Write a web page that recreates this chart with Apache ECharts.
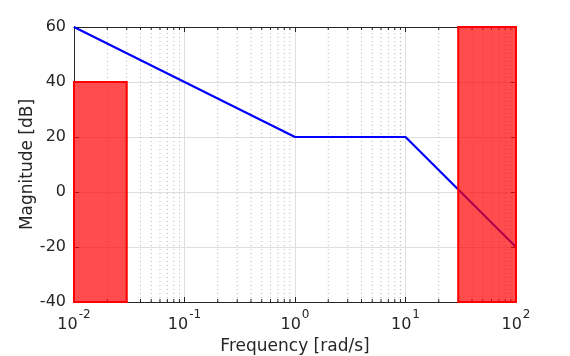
<!DOCTYPE html>
<html><head><meta charset="utf-8">
<script src="https://cdn.jsdelivr.net/npm/echarts@6/dist/echarts.min.js"></script>
<style>html,body{margin:0;padding:0;background:#fff}#c{width:570px;height:356px}</style>
</head><body><div id="c"></div>
<script>
// Data
const freq = [0.01, 1, 10, 100];
const magnitude = [60, 20, 20, -20];
const rectFrom = [0.01, 30];
const rectTo = [0.03, 100];
const rectTop = [40, 60];
const xMin = 0.01, xMax = 100;
const yMin = -40, yMax = 60, yStep = 20;
const decades = [-2, -1, 0, 1];
const minorMultipliers = [2, 3, 4, 5, 6, 7, 8, 9];

const minorVals = [];
decades.forEach(d => minorMultipliers.forEach(m => minorVals.push(m * Math.pow(10, d))));

const AX = '#262626';
const FONT = 'DejaVu Sans';

const chart = echarts.init(document.getElementById('c'), null, {renderer: 'canvas'});

const xCommon = {
  type: 'log', logBase: 10, min: xMin, max: xMax, splitNumber: 4,
  axisLine: {show: true, onZero: false, lineStyle: {color: AX, width: 1}},
  axisTick: {show: true, inside: true, length: 5, lineStyle: {color: AX}},
};
const yCommon = {
  type: 'value', min: yMin, max: yMax, interval: yStep,
  axisLine: {show: true, onZero: false, lineStyle: {color: AX, width: 1}},
  axisTick: {show: true, inside: true, length: 5, lineStyle: {color: AX}},
};

chart.setOption({
  animation: false,
  grid: {left: 74, top: 27, width: 442, height: 275, containLabel: false, outerBoundsMode: 'none'},
  xAxis: [
    Object.assign({}, xCommon, {
      position: 'bottom',
      name: 'Frequency [rad/s]', nameLocation: 'middle', nameGap: 36, nameMoveOverlap: false,
      nameTextStyle: {fontFamily: FONT, fontSize: 17, color: AX},
      splitLine: {show: true, lineStyle: {color: '#dedede', width: 1}},
      axisLabel: {
        margin: 7,
        fontFamily: FONT, color: AX,
        formatter: v => '{b|10}{s|' + Math.round(Math.log10(v)) + '}',
        rich: {
          b: {fontFamily: FONT, fontSize: 16, color: AX, verticalAlign: 'bottom', lineHeight: 24},
          s: {fontFamily: FONT, fontSize: 12, color: AX, verticalAlign: 'top', lineHeight: 24, padding: [0,0,0,1]}
        }
      }
    }),
    Object.assign({}, xCommon, {
      position: 'top', axisLabel: {show: false}, splitLine: {show: false}
    })
  ],
  yAxis: [
    Object.assign({}, yCommon, {
      position: 'left',
      name: 'Magnitude [dB]', nameLocation: 'middle', nameGap: 38, nameMoveOverlap: false,
      nameTextStyle: {fontFamily: FONT, fontSize: 17, color: AX},
      splitLine: {show: true, lineStyle: {color: '#dedede', width: 1}},
      axisLabel: {margin: 8, fontFamily: FONT, fontSize: 16, color: AX}
    }),
    Object.assign({}, yCommon, {
      position: 'right', axisLabel: {show: false}, splitLine: {show: false}
    })
  ],
  series: [
    {
      type: 'custom', xAxisIndex: 0, yAxisIndex: 0, z: 1, silent: true,
      data: minorVals.map(v => [v]),
      encode: {x: 0},
      renderItem: function (params, api) {
        const v = api.value(0);
        const p0 = api.coord([v, yMin]);
        const p1 = api.coord([v, yMax]);
        return {
          type: 'group',
          children: [
            {type: 'line', shape: {x1: p0[0], y1: p0[1], x2: p1[0], y2: p1[1]},
             style: {stroke: '#b4b4b4', lineWidth: 1, lineDash: [1, 3]}},
            {type: 'line', shape: {x1: p0[0], y1: p0[1], x2: p0[0], y2: p0[1] - 3},
             style: {stroke: AX, lineWidth: 1}},
            {type: 'line', shape: {x1: p1[0], y1: p1[1], x2: p1[0], y2: p1[1] + 3},
             style: {stroke: AX, lineWidth: 1}}
          ]
        };
      }
    },
    {
      type: 'line', xAxisIndex: 0, yAxisIndex: 0, z: 3,
      data: freq.map((f, i) => [f, magnitude[i]]),
      symbol: 'none',
      lineStyle: {color: '#0000ff', width: 2.2}
    },
    {
      type: 'custom', xAxisIndex: 0, yAxisIndex: 0, z: 5, silent: true,
      data: rectFrom.map((f, i) => [f, rectTo[i], rectTop[i]]),
      encode: {x: [0, 1], y: 2},
      renderItem: function (params, api) {
        const a = api.coord([api.value(0), api.value(2)]);
        const b = api.coord([api.value(1), yMin]);
        return {
          type: 'rect',
          shape: {x: a[0], y: a[1], width: b[0] - a[0], height: b[1] - a[1]},
          style: {fill: 'rgba(255,0,0,0.7)', stroke: '#ff0000', lineWidth: 2}
        };
      }
    }
  ]
});
</script></body></html>
